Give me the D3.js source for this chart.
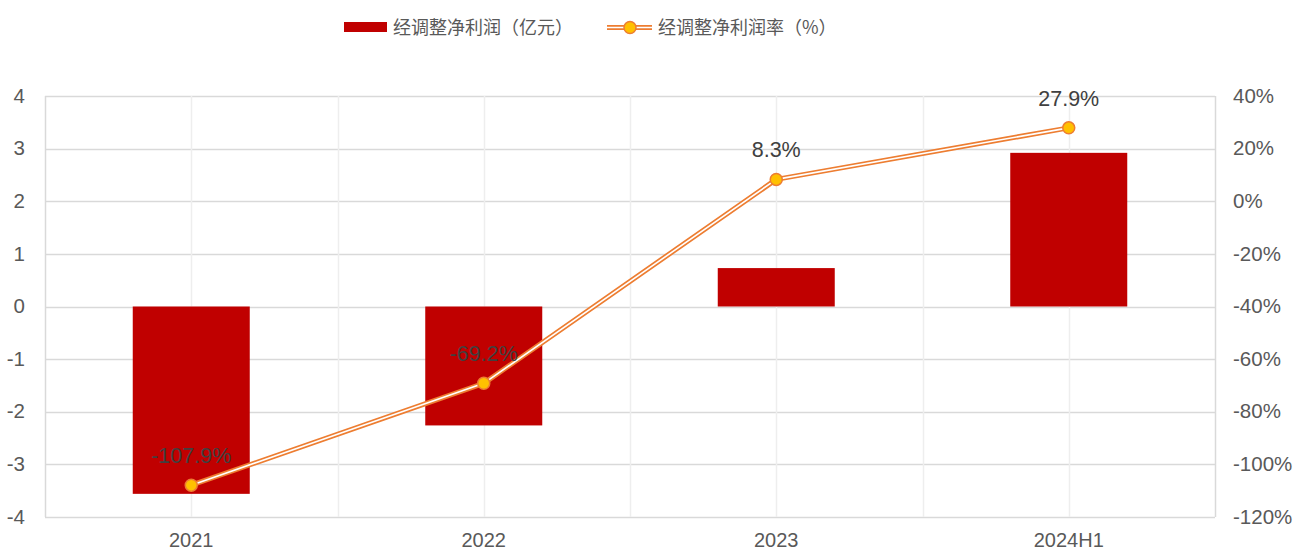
<!DOCTYPE html>
<html>
<head>
<meta charset="utf-8">
<script src="https://cdn.jsdelivr.net/npm/d3@7/dist/d3.min.js"></script>
<style>
  html, body { margin: 0; padding: 0; background: #fff; }
  svg { display: block; }
  text { font-family: Arial, "Liberation Sans", "Noto Sans CJK SC", sans-serif; }
</style>
</head>
<body>
<svg id="chart" width="1296" height="552"></svg>
<script>
// Adjusted net profit (100M CNY) and adjusted net margin (%)
const categories = ["2021", "2022", "2023", "2024H1"];
const profitValues = [-3.56, -2.26, 0.73, 2.92];
const marginValues = [-107.9, -69.2, 8.3, 27.9];
const marginLabels = ["-107.9%", "-69.2%", "8.3%", "27.9%"];
const leftTicks = [-4, -3, -2, -1, 0, 1, 2, 3, 4];
const rightTicks = [-120, -100, -80, -60, -40, -20, 0, 20, 40];
const seriesNames = ["经调整净利润（亿元）", "经调整净利润率（%）"];

const svg = d3.select("#chart");
const plot = { left: 45, right: 1215, top: 96, bottom: 517 };

const x = d3.scaleBand().domain(categories).range([plot.left, plot.right]).paddingInner(0).paddingOuter(0);
const yL = d3.scaleLinear().domain([-4, 4]).range([plot.bottom, plot.top]);
const yR = d3.scaleLinear().domain([-120, 40]).range([plot.bottom, plot.top]);

const gridColor = "#d9d9d9";
const tickColor = "#595959";

// horizontal gridlines
svg.append("g").selectAll("line").data(leftTicks).join("line")
  .attr("x1", plot.left).attr("x2", plot.right)
  .attr("y1", d => Math.round(yL(d)) + 0.5).attr("y2", d => Math.round(yL(d)) + 0.5)
  .attr("stroke", gridColor).attr("stroke-width", 1.5);

// vertical gridlines at category centers and boundaries
const vLines = [];
categories.forEach((c, i) => {
  vLines.push(x(c) + x.bandwidth() / 2);
  if (i > 0) vLines.push(x(c));
});
svg.append("g").selectAll("line").data(vLines).join("line")
  .attr("x1", d => Math.round(d) + 0.5).attr("x2", d => Math.round(d) + 0.5)
  .attr("y1", plot.top).attr("y2", plot.bottom)
  .attr("stroke", "#eeeeee").attr("stroke-width", 1.5);

// side frame lines
[plot.left, plot.right].forEach(px => {
  svg.append("line")
    .attr("x1", px + 0.5).attr("x2", px + 0.5)
    .attr("y1", plot.top).attr("y2", plot.bottom)
    .attr("stroke", gridColor).attr("stroke-width", 1.5);
});

// left axis
const leftAxis = d3.axisLeft(yL).tickValues(leftTicks).tickSize(0).tickPadding(20).tickFormat(d => String(d));
const gL = svg.append("g").attr("transform", `translate(${plot.left},0)`).call(leftAxis);
gL.select(".domain").remove();
gL.selectAll("text").attr("fill", tickColor).style("font-size", "20.5px").attr("dy", "0.3em");

// right axis
const rightAxis = d3.axisRight(yR).tickValues(rightTicks).tickSize(0).tickPadding(18).tickFormat(d => String(d) + "%");
const gR = svg.append("g").attr("transform", `translate(${plot.right},0)`).call(rightAxis);
gR.select(".domain").remove();
gR.selectAll("text").attr("fill", tickColor).style("font-size", "20.5px").attr("dy", "0.3em");

// bottom axis labels
const bottomAxis = d3.axisBottom(x).tickSize(0).tickPadding(16);
const gB = svg.append("g").attr("transform", `translate(0,${plot.bottom})`).call(bottomAxis);
gB.select(".domain").remove();
gB.selectAll("text").attr("fill", tickColor).style("font-size", "20px");

// bars
const barW = x.bandwidth() * 0.4;
svg.append("g").selectAll("rect").data(categories).join("rect")
  .attr("x", (c) => x(c) + (x.bandwidth() - barW) / 2)
  .attr("width", barW)
  .attr("y", (c, i) => yL(Math.max(0, profitValues[i])))
  .attr("height", (c, i) => Math.abs(yL(profitValues[i]) - yL(0)))
  .attr("fill", "#c00000");

// margin line: orange double stroke
const pts = categories.map((c, i) => [x(c) + x.bandwidth() / 2, yR(marginValues[i])]);
const lineGen = d3.line();
svg.append("path").attr("d", lineGen(pts)).attr("fill", "none")
  .attr("stroke", "#ed7d31").attr("stroke-width", 5).attr("stroke-linejoin", "round");
svg.append("path").attr("d", lineGen(pts)).attr("fill", "none")
  .attr("stroke", "#ffffff").attr("stroke-width", 1.6).attr("stroke-linejoin", "round");

svg.append("g").selectAll("circle").data(pts).join("circle")
  .attr("cx", d => d[0]).attr("cy", d => d[1]).attr("r", 6)
  .attr("fill", "#ffc000").attr("stroke", "#ed7d31").attr("stroke-width", 1.5);

// value labels
svg.append("g").selectAll("text").data(pts).join("text")
  .attr("x", d => d[0]).attr("y", d => d[1] - 22)
  .attr("text-anchor", "middle")
  .attr("fill", "#404040").style("font-size", "21.5px")
  .text((d, i) => marginLabels[i]);

// legend
const lg = svg.append("g");
lg.append("rect").attr("x", 344).attr("y", 22).attr("width", 43).attr("height", 10).attr("fill", "#c00000");
lg.append("text").attr("x", 393).attr("y", 34).attr("fill", tickColor).style("font-size", "18px")
  .style("font-family", "'Noto Sans CJK SC', sans-serif").text(seriesNames[0]);
lg.append("line").attr("x1", 607).attr("x2", 652).attr("y1", 27.5).attr("y2", 27.5)
  .attr("stroke", "#ed7d31").attr("stroke-width", 5);
lg.append("line").attr("x1", 607).attr("x2", 652).attr("y1", 27.5).attr("y2", 27.5)
  .attr("stroke", "#fff").attr("stroke-width", 1.6);
lg.append("circle").attr("cx", 630).attr("cy", 27.5).attr("r", 6)
  .attr("fill", "#ffc000").attr("stroke", "#ed7d31").attr("stroke-width", 1.5);
lg.append("text").attr("x", 658).attr("y", 34).attr("fill", tickColor).style("font-size", "18px")
  .style("font-family", "'Noto Sans CJK SC', sans-serif").text(seriesNames[1]);
</script>
</body>
</html>
